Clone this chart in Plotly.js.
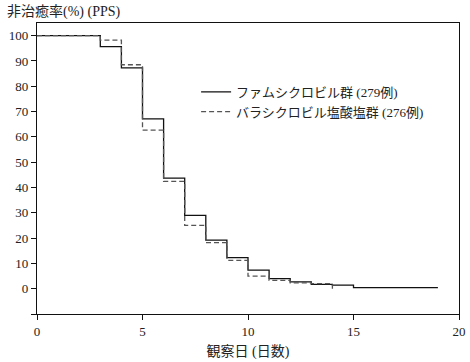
<!DOCTYPE html>
<html>
<head>
<meta charset="utf-8">
<script src="https://cdn.plot.ly/plotly-3.0.1.min.js"></script>
<style>html,body{margin:0;padding:0;background:#fff;}#chart{width:470px;height:362px;}</style>
</head>
<body>
<div id="chart"></div>
<script>
const famDays = [0, 3, 4, 5, 6, 7, 8, 9, 10, 11, 12, 13, 14, 15, 19];
const famValues = [100, 95.7, 87.3, 67.1, 43.7, 29.0, 19.2, 12.3, 7.3, 4.0, 2.7, 1.7, 1.4, 0.4, 0.4];
const valDays = [0, 3, 4, 5, 6, 7, 8, 9, 10, 11, 12, 13, 14];
const valValues = [100, 98.2, 88.5, 62.7, 42.4, 25.0, 18.2, 11.2, 5.0, 3.3, 2.3, 2.0, 0];
const famName = 'ファムシクロビル群 (279例)';
const valName = 'バラシクロビル塩酸塩群 (276例)';
const yTickVals = [-10, 0, 10, 20, 30, 40, 50, 60, 70, 80, 90, 100];
const yTickText = ['', '0', '10', '20', '30', '40', '50', '60', '70', '80', '90', '100'];
const xTickVals = [0, 5, 10, 15, 20];
const yTitle = '非治癒率(%) (PPS)';
const xTitle = '観察日 (日数)';

const FONT = 'Liberation Serif, DejaVu Serif, Noto Sans CJK JP, serif';

const traces = [
  {x: famDays, y: famValues, name: famName, mode: 'lines',
   line: {shape: 'hv', color: '#111', width: 1.3}},
  {x: valDays, y: valValues, name: valName, mode: 'lines',
   line: {shape: 'hv', color: '#555', width: 1.3, dash: '5px,3px'}}
];

const layout = {
  width: 470, height: 362,
  margin: {l: 37, r: 11, t: 23, b: 48},
  paper_bgcolor: '#fff', plot_bgcolor: '#fff',
  font: {family: FONT, size: 13, color: '#222'},
  showlegend: true,
  legend: {x: 0.377, y: 0.815, xanchor: 'left', yanchor: 'top', bgcolor: 'rgba(0,0,0,0)',
           font: {family: FONT, size: 13, color: '#222'}, tracegroupgap: 0},
  xaxis: {range: [0, 20], tickvals: xTickVals, ticks: 'outside', ticklen: 5, tickcolor: '#111',
          showline: true, linecolor: '#111', linewidth: 1.2, mirror: true, showgrid: false, zeroline: false,
          tickfont: {family: FONT, size: 13, color: '#222'},
          title: {text: xTitle, font: {family: FONT, size: 14, color: '#222'}, standoff: 8}},
  yaxis: {range: [-10, 105], tickvals: yTickVals, ticktext: yTickText, ticks: 'outside', ticklen: 5, tickcolor: '#111',
          showline: true, linecolor: '#111', linewidth: 1.2, mirror: true, showgrid: false, zeroline: false,
          tickfont: {family: FONT, size: 13, color: '#222'}},
  annotations: [
    {text: yTitle, xref: 'paper', yref: 'paper', x: -32/422, y: 1 + 11/291, xanchor: 'left', yanchor: 'middle',
     showarrow: false, font: {family: FONT, size: 14, color: '#222'}}
  ]
};

Plotly.newPlot('chart', traces, layout, {staticPlot: true, displayModeBar: false});
</script>
</body>
</html>
